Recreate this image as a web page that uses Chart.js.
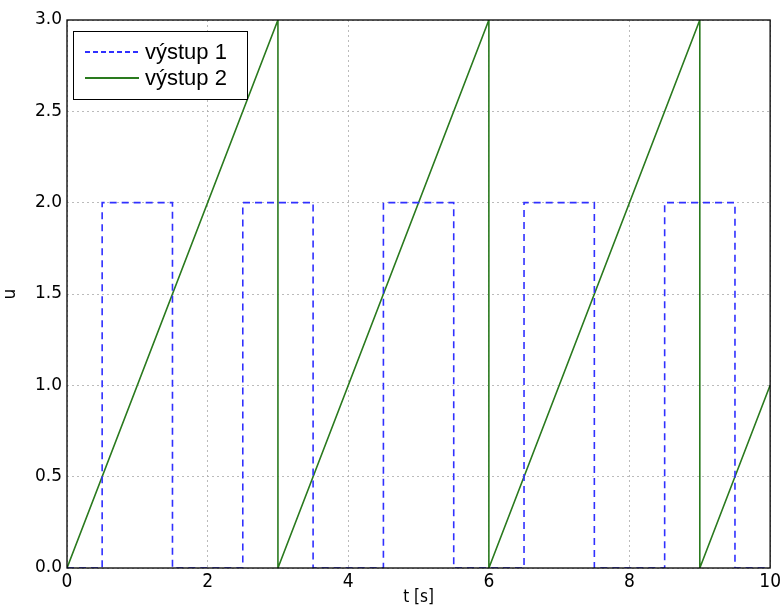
<!DOCTYPE html>
<html>
<head>
<meta charset="utf-8">
<script src="https://cdn.jsdelivr.net/npm/chart.js@4/dist/chart.umd.min.js"></script>
<style>
  html, body { margin: 0; padding: 0; background: #fff; }
  #wrap { width: 784px; height: 608px; }
</style>
</head>
<body>
<div id="wrap"><canvas id="c"></canvas></div>
<script>
// výstup 1 - obdélníkový průběh (body zlomu)
const t1 = [0, 0.5, 0.5, 1.5, 1.5, 2.5, 2.5, 3.5, 3.5, 4.5, 4.5, 5.5, 5.5, 6.5, 6.5, 7.5, 7.5, 8.5, 8.5, 9.5, 9.5, 10];
const u1 = [0, 0,   2,   2,   0,   0,   2,   2,   0,   0,   2,   2,   0,   0,   2,   2,   0,   0,   2,   2,   0,   0];
// výstup 2 - pila
const t2 = [0, 3, 3, 6, 6, 9, 9, 10];
const u2 = [0, 3, 0, 3, 0, 3, 0, 1];
const xTicks = [0, 2, 4, 6, 8, 10];
const yTicks = [0, 0.5, 1, 1.5, 2, 2.5, 3];
const labels = ["výstup 1", "výstup 2"];

const pts = (xs, ys) => xs.map((x, i) => ({ x: x, y: ys[i] }));

const frame = {
  id: "frame",
  afterDatasetsDraw(chart) {
    const { ctx, chartArea: a } = chart;
    ctx.save();
    ctx.strokeStyle = "#000";
    ctx.lineWidth = 1.3;
    ctx.strokeRect(a.left, a.top, a.right - a.left, a.bottom - a.top);

    // legenda uvnitř grafu
    const bx = a.left + 6, by = a.top + 11, bw = 174, bh = 68;
    ctx.fillStyle = "#fff";
    ctx.fillRect(bx, by, bw, bh);
    ctx.lineWidth = 1;
    ctx.strokeRect(bx + 0.5, by + 0.5, bw, bh);
    ctx.font = "22px 'Liberation Sans', Arial, sans-serif";
    ctx.textBaseline = "middle";
    chart.data.datasets.forEach((ds, i) => {
      const y = by + 21 + i * 26;
      ctx.strokeStyle = ds.borderColor;
      ctx.lineWidth = 2;
      ctx.setLineDash(ds.borderDash ? [5, 3] : []);
      ctx.beginPath();
      ctx.moveTo(bx + 12, y);
      ctx.lineTo(bx + 66, y);
      ctx.stroke();
      ctx.setLineDash([]);
      ctx.fillStyle = "#000";
      ctx.fillText(ds.label, bx + 72, y + 1);
    });
    ctx.restore();
  }
};

new Chart(document.getElementById("c"), {
  type: "line",
  data: {
    datasets: [
      {
        label: labels[0],
        data: pts(t1, u1),
        borderColor: "#3030ff",
        borderWidth: 1.6,
        borderDash: [7, 5],
        pointRadius: 0,
        tension: 0,
        fill: false
      },
      {
        label: labels[1],
        data: pts(t2, u2),
        borderColor: "#2a7a1e",
        borderWidth: 1.6,
        pointRadius: 0,
        tension: 0,
        fill: false
      }
    ]
  },
  options: {
    responsive: true,
    maintainAspectRatio: false,
    animation: false,
    layout: { padding: { top: 20, right: 13, left: 0, bottom: 0 } },
    plugins: { legend: { display: false }, tooltip: { enabled: false } },
    scales: {
      x: {
        type: "linear",
        min: 0, max: 10,
        afterFit: s => { s.height = 40; },
        afterBuildTicks: s => { s.ticks = xTicks.map(v => ({ value: v })); },
        grid: { color: "#aaa", drawTicks: false, lineWidth: 0.8 },
        border: { display: false, dash: [2, 3] },
        ticks: {
          padding: 3,
          color: "#000",
          font: { family: "'DejaVu Sans Condensed', 'DejaVu Sans', sans-serif", size: 19 },
          callback: v => String(v)
        },
        title: {
          display: true, text: "t [s]", color: "#000", padding: 0,
          font: { family: "'DejaVu Sans Condensed', 'DejaVu Sans', sans-serif", size: 17 }
        }
      },
      y: {
        min: 0, max: 3,
        afterFit: s => { s.width = 67; },
        afterBuildTicks: s => { s.ticks = yTicks.map(v => ({ value: v })); },
        grid: { color: "#aaa", drawTicks: false, lineWidth: 0.8 },
        border: { display: false, dash: [2, 3] },
        ticks: {
          padding: 5,
          color: "#000",
          font: { family: "'DejaVu Sans', sans-serif", size: 17 },
          callback: v => Number(v).toFixed(1)
        },
        title: {
          display: true, text: "u", color: "#000", padding: 0,
          font: { family: "'DejaVu Sans', sans-serif", size: 17 }
        }
      }
    }
  },
  plugins: [frame]
});
</script>
</body>
</html>
